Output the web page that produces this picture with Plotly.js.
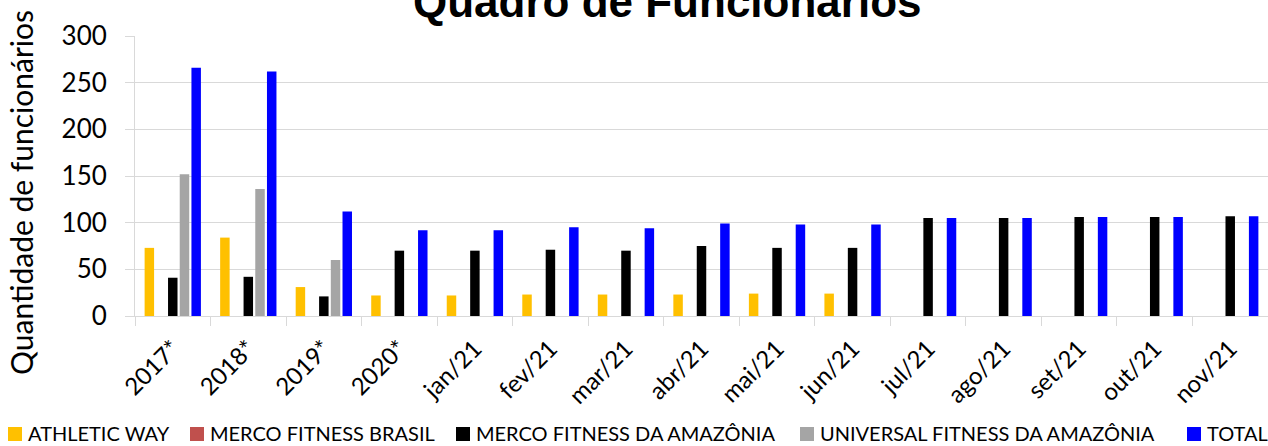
<!DOCTYPE html>
<html>
<head>
<meta charset="utf-8">
<script src="https://cdn.plot.ly/plotly-3.0.1.min.js"></script>
<style>html,body{margin:0;padding:0;background:#fff;}#chart{width:1268px;height:446px;}</style>
</head>
<body>
<div id="chart"></div>
<script>
const categories = ["2017*","2018*","2019*","2020*","jan/21","fev/21","mar/21","abr/21","mai/21","jun/21","jul/21","ago/21","set/21","out/21","nov/21"];
const athleticWay = [73, 84, 31, 22, 22, 23, 23, 23, 24, 24, 0, 0, 0, 0, 0];
const mercoFitnessBrasil = [0, 0, 0, 0, 0, 0, 0, 0, 0, 0, 0, 0, 0, 0, 0];
const mercoFitnessAmazonia = [41, 42, 21, 70, 70, 71, 70, 75, 73, 73, 105, 105, 106, 106, 107];
const universalFitnessAmazonia = [152, 136, 60, 0, 0, 0, 0, 0, 0, 0, 0, 0, 0, 0, 0];
const total = [266, 262, 112, 92, 92, 95, 94, 99, 98, 98, 105, 105, 106, 106, 107];
const seriesNames = ["ATHLETIC WAY","MERCO FITNESS BRASIL","MERCO FITNESS DA AMAZÔNIA","UNIVERSAL FITNESS DA AMAZÔNIA","TOTAL"];
const yTicks = [0, 50, 100, 150, 200, 250, 300];

const colors = ["#FFC000", "#C0504D", "#000000", "#A5A5A5", "#0000FF"];
const seriesValues = [athleticWay, mercoFitnessBrasil, mercoFitnessAmazonia, universalFitnessAmazonia, total];

const W = 1268, H = 446, ML = 135, MR = 0, MT = 36, MB = 130;
const PW = W - ML - MR, PH = H - MT - MB;
const px2x = px => (px - ML) / PW;
const py2y = py => (H - MB - py) / PH;

const FONT = "Lato, 'Open Sans', sans-serif";
const traces = seriesValues.map((vals, i) => ({
  type: "bar",
  name: seriesNames[i],
  x: categories,
  y: vals,
  marker: {color: colors[i], line: {width: 0}},
  hoverinfo: "x+y+name"
}));

// legend drawn manually (one row, as in the reference)
const legendSquareLeft = [8, 190, 456, 800, 1187];
const legendY = 433;
const shapes = [];
const annotations = [];
seriesNames.forEach((name, i) => {
  const x0 = legendSquareLeft[i];
  shapes.push({
    type: "rect", xref: "paper", yref: "paper",
    x0: px2x(x0), x1: px2x(x0 + 14), y0: py2y(legendY + 8), y1: py2y(legendY - 6),
    fillcolor: colors[i], line: {width: 0}
  });
  annotations.push({
    text: name, xref: "paper", yref: "paper",
    x: px2x(x0 + 18), y: py2y(legendY), xanchor: "left", yanchor: "middle",
    showarrow: false, font: {family: FONT, size: 20, color: "#000000"}
  });
});
annotations.push({
  text: "<b>Quadro de Funcionários</b>",
  xref: "paper", yref: "paper", x: px2x(667), y: 1,
  xanchor: "center", yanchor: "bottom", yshift: 8, showarrow: false,
  font: {family: "'Liberation Sans', Arial, sans-serif", size: 44, color: "#000000"}
});
annotations.push({
  text: "Quantidade de funcionários",
  xref: "paper", yref: "paper", x: px2x(21), y: py2y(193),
  xanchor: "center", yanchor: "middle", textangle: -90, showarrow: false,
  font: {family: FONT, size: 30, color: "#000000"}
});

const layout = {
  width: W, height: H,
  margin: {l: ML, r: MR, t: MT, b: MB, pad: 0},
  paper_bgcolor: "#ffffff", plot_bgcolor: "#ffffff",
  barmode: "group", bargap: 0.225, bargroupgap: 0.19,
  font: {family: FONT, color: "#000000"},
  showlegend: false,
  xaxis: {
    type: "category",
    tickangle: -45,
    tickfont: {family: FONT, size: 24, color: "#000000"},
    showline: true, linecolor: "#D9D9D9", linewidth: 1,
    ticks: "outside", ticklen: 9, tickcolor: "#D9D9D9", tickwidth: 1,
    tickson: "boundaries",
    ticklabelstandoff: 8,
    showgrid: false, zeroline: false,
    automargin: false
  },
  yaxis: {
    range: [0, 300],
    tickvals: yTicks,
    ticktext: yTicks.map(String),
    tickfont: {family: FONT, size: 26, color: "#000000"},
    showline: true, linecolor: "#D9D9D9", linewidth: 1,
    ticks: "outside", ticklen: 9, tickcolor: "#D9D9D9", tickwidth: 1,
    ticklabelstandoff: 13,
    showgrid: true, gridcolor: "#D9D9D9", gridwidth: 1,
    zeroline: false, automargin: false
  },
  shapes: shapes,
  annotations: annotations
};

Plotly.newPlot("chart", traces, layout, {displayModeBar: false});
</script>
</body>
</html>
